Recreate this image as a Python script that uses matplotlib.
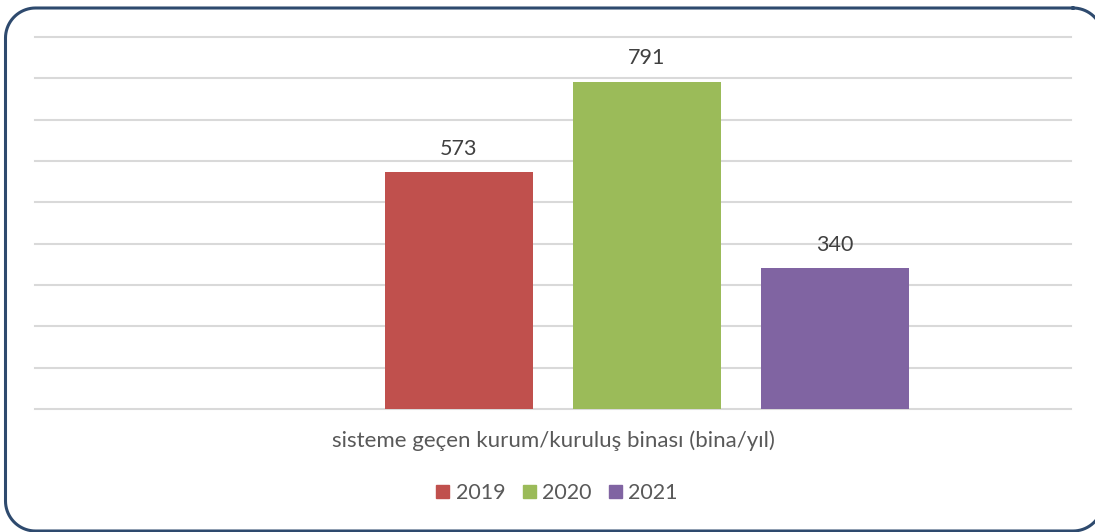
import numpy as np
import matplotlib.pyplot as plt
from matplotlib.lines import Line2D
from matplotlib.patches import Patch

# data
years = ['2019', '2020', '2021']
values = [573, 791, 340]
colors = ['#C0504D', '#9BBB59', '#8064A2']
category = 'sisteme geçen kurum/kuruluş binası (bina/yıl)'

plt.rcParams['font.family'] = ['Lato', 'DejaVu Sans']

W, H = 1095, 532
fig = plt.figure(figsize=(W / 100, H / 100), dpi=100)


def rounded_frame(x0, y0, x1, y1, r):
    # outline of a rounded rectangle in pixel coords (y downwards)
    t = np.linspace(0, np.pi / 2, 20)
    xs, ys = [], []
    for cx, cy, a0 in [(x1 - r, y0 + r, -np.pi / 2), (x1 - r, y1 - r, 0),
                       (x0 + r, y1 - r, np.pi / 2), (x0 + r, y0 + r, np.pi)]:
        xs += list(cx + r * np.cos(a0 + t))
        ys += list(cy + r * np.sin(a0 + t))
    xs.append(xs[0])
    ys.append(ys[0])
    return np.array(xs) / W, 1 - np.array(ys) / H


fx, fy = rounded_frame(5.5, 8, 1103, 531, 30)
fig.lines.append(Line2D(fx, fy, transform=fig.transFigure, color='#2E4A6E',
                        linewidth=2.2, solid_joinstyle='round'))

# plot area: x 35..1071 px, y 37..409 px
ax = fig.add_axes([35 / W, 1 - 409 / H, (1071 - 35) / W, (409 - 37) / H])
pos = [0, 1, 2]
width = 148 / 188
ax.bar(pos, values, width=width, color=colors, zorder=3)
ax.set_xlim((35 - 459) / 188, (1071 - 459) / 188)
ax.set_ylim(0, 900)
ax.set_yticks(range(0, 901, 100))
ax.yaxis.grid(True, color='#D9D9D9', linewidth=1.5, zorder=0)
for gl in ax.get_ygridlines():
    gl.set_clip_on(False)
ax.tick_params(left=False, bottom=False, labelleft=False, labelbottom=False)
for s in ax.spines.values():
    s.set_visible(False)

for x, v in zip(pos, values):
    ax.annotate(str(v), (x, v), xytext=(0, 17), textcoords='offset points',
                ha='center', va='center', fontsize=15.5, color='#404040')

fig.text(553 / W, 1 - 441 / H, category, ha='center', va='center',
         fontsize=16, color='#595959')

handles = [Patch(color=c, label=y) for c, y in zip(colors, years)]
fig.legend(handles=handles, loc='center', bbox_to_anchor=(557 / W, 1 - 493 / H),
           ncol=3, frameon=False, fontsize=15.5, handlelength=0.6, handleheight=0.6,
           handletextpad=0.3, columnspacing=0.8, labelcolor='#595959')

fig.savefig('out.png', dpi=100)
